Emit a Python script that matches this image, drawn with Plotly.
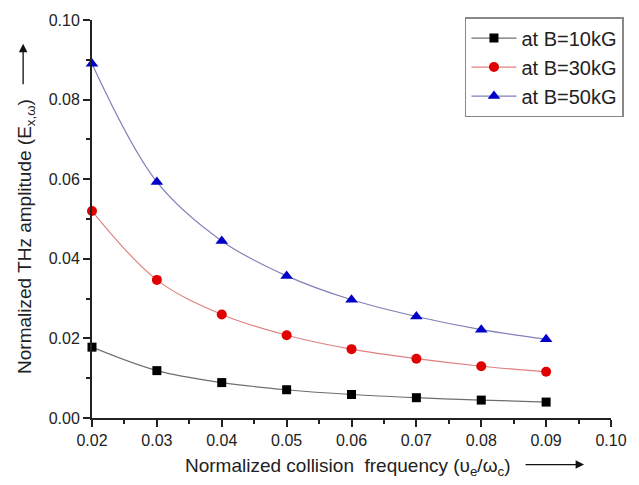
import plotly.graph_objects as go

x_vals = [0.02, 0.03, 0.04, 0.05, 0.06, 0.07, 0.08, 0.09]
b10 = [0.0178, 0.0119, 0.0089, 0.0071, 0.0059, 0.0051, 0.0045, 0.0040]
b30 = [0.0520, 0.0347, 0.0260, 0.0208, 0.0173, 0.0149, 0.0130, 0.0116]
b50 = [0.0890, 0.0593, 0.0445, 0.0357, 0.0297, 0.0255, 0.0222, 0.0198]
names = ["at B=10kG", "at B=30kG", "at B=50kG"]
x_title = "Normalized collision  frequency (υ<sub>e</sub>/ω<sub>c</sub>)"
y_title = "Normalized THz amplitude (E<sub>x,ω</sub>)"

font = "Liberation Sans, Arial, sans-serif"
W, H = 639, 485
L, R, T, B = 92, 27, 16, 67
pw, ph = W - L - R, H - T - B


def px(xp):
    return (xp - L) / pw


def py(yp):
    return (H - B - yp) / ph


fig = go.Figure()
series = [
    (b10, names[0], "#000000", "#6e6e6e", "square", 9),
    (b30, names[1], "#e00000", "#e08080", "circle", 10),
    (b50, names[2], "#0000c8", "#8080b8", "triangle-up", 11),
]
for ys, nm, mc, lc, sym, sz in series:
    fig.add_trace(go.Scatter(
        x=x_vals, y=ys, name=nm, mode="lines+markers",
        line=dict(color=lc, width=1.2, shape="spline", smoothing=1.0),
        marker=dict(color=mc, symbol=sym, size=sz),
        cliponaxis=False,
    ))

axis_common = dict(
    tickformat=".2f", ticks="outside", ticklen=7, tickwidth=2, tickcolor="#222222",
    showline=True, linecolor="#222222", linewidth=2, showgrid=False, zeroline=False,
)
fig.update_layout(
    width=W, height=H,
    margin=dict(l=L, r=R, t=T, b=B),
    paper_bgcolor="white", plot_bgcolor="white",
    font=dict(family=font, size=16, color="#222222"),
    legend=dict(
        x=px(625), y=py(13), xanchor="right", yanchor="top",
        bordercolor="#888888", borderwidth=1.5, bgcolor="white",
        font=dict(size=20), tracegroupgap=0, itemwidth=45,
    ),
    xaxis=dict(
        range=[0.02, 0.10], tickvals=[0.02, 0.03, 0.04, 0.05, 0.06, 0.07, 0.08, 0.09, 0.10],
        minor=dict(dtick=0.005, tick0=0.02, ticks="outside", ticklen=4, tickwidth=1.5, tickcolor="#222222"),
        **axis_common,
    ),
    yaxis=dict(
        range=[0, 0.10], tickvals=[0, 0.02, 0.04, 0.06, 0.08, 0.10],
        minor=dict(dtick=0.01, tick0=0, ticks="outside", ticklen=4, tickwidth=1.5, tickcolor="#222222"),
        **axis_common,
    ),
)

# axis titles
fig.add_annotation(text=x_title, xref="paper", yref="paper", x=px(348), y=py(467),
                   xanchor="center", yanchor="middle", showarrow=False, font=dict(size=19))
fig.add_annotation(text=y_title, xref="paper", yref="paper", x=px(26), y=py(235),
                   xanchor="center", yanchor="middle", showarrow=False, textangle=-90,
                   font=dict(size=19))
# direction arrows
fig.add_annotation(xref="paper", yref="paper", x=px(585), y=py(465), ax=-60, ay=0,
                   text="", showarrow=True, arrowhead=2, arrowsize=1.3, arrowwidth=1.3,
                   arrowcolor="#111111")
fig.add_annotation(xref="paper", yref="paper", x=px(23), y=py(40), ax=0, ay=42,
                   text="", showarrow=True, arrowhead=2, arrowsize=1.3, arrowwidth=1.3,
                   arrowcolor="#111111")
fig.write_html("out.html")
